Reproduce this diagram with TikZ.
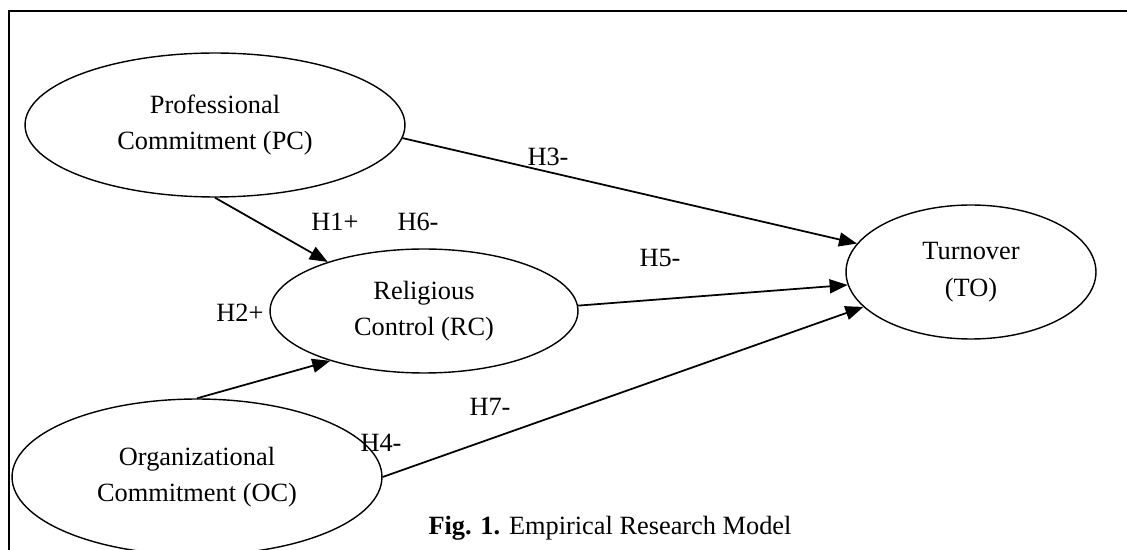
\documentclass[tikz,border=0pt]{standalone}
\usepackage{fontspec}
\setmainfont{Liberation Serif}
\usetikzlibrary{shapes.geometric,arrows.meta}
\tikzset{
    construct/.style={ellipse,draw,black,line width=0.8pt,inner sep=0pt,align=center},
    hypothesis/.style={black,line width=1pt,-{Triangle[length=0.36cm,width=0.28cm]}},
    hlabel/.style={inner sep=0pt},
    frame/.style={black,line width=1pt}
}
\begin{document}
\begin{tikzpicture}[x=0.02cm,y=-0.02cm,font=\fontsize{15}{20.7}\selectfont]
\useasboundingbox(0,0)rectangle(1127,550);
\clip(0,0)rectangle(1127,550);
\draw[frame](9,11)rectangle(1140,560);
% constructs
\node[construct,minimum width=7.6cm,minimum height=2.88cm](pc)at(215,125){Professional\\Commitment (PC)};
\node[construct,minimum width=6.16cm,minimum height=2.48cm](rc)at(424,311){Religious\\Control (RC)};
\node[construct,minimum width=7.4cm,minimum height=3.12cm](oc)at(197,477){Organizational\\Commitment (OC)};
\node[construct,minimum width=5cm,minimum height=2.68cm](to)at(971,272){Turnover\\(TO)};
% hypotheses
\draw[hypothesis](pc.-4)--(to.166);
\draw[hypothesis](pc.south)--(rc.153);
\draw[hypothesis](oc.north)--(rc.208);
\draw[hypothesis](rc.2)--(to.186);
\draw[hypothesis](oc.east)--(to.198);
\node[hlabel](h1)at(335,222){H1+};
\node[hlabel](h2)at(240,313){H2+};
\node[hlabel](h3)at(548,157){H3-};
\node[hlabel](h4)at(381,443){H4-};
\node[hlabel](h5)at(660,258){H5-};
\node[hlabel](h6)at(418,222){H6-};
\node[hlabel](h7)at(490,407){H7-};
\node[hlabel](caption)at(610,528){\textbf{Fig. 1.} Empirical Research Model};
\end{tikzpicture}
\end{document}
